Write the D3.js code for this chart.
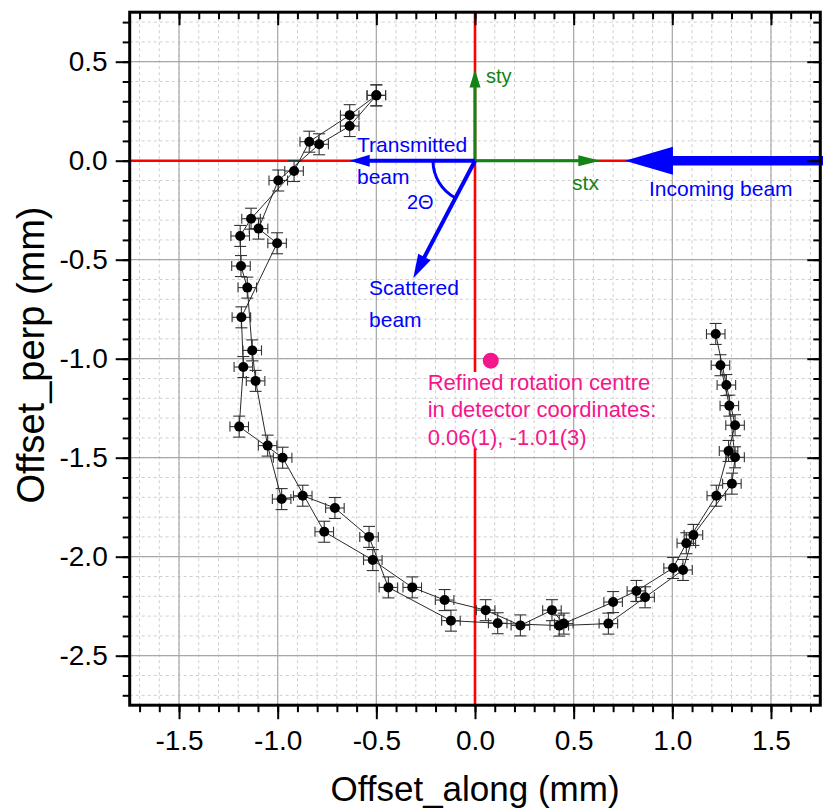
<!DOCTYPE html>
<html lang="en">
<head>
    <meta charset="UTF-8">
    <title>Offset</title>
    <script src="https://cdn.jsdelivr.net/npm/d3@7"></script>
    <style>
        body { margin: 0; background: #fff; }
        text { font-family: Arial, "Liberation Sans", sans-serif; }
    </style>
</head>
<body>
<script type="text/javascript">
    var width = 823;
    var height = 810;
    var plotLeft = 129.7, plotRight = 820.3, plotTop = 12.2, plotBottom = 705.2;

    // first pass
    var passA_x = [-0.50, -0.635, -0.84, -0.917, -1.135, -1.19, -1.186, -1.154, -1.129, -1.112, -1.051, -0.98, -0.873,
        -0.71, -0.537, -0.439, -0.122, 0.115, 0.427, 0.676, 0.862, 1.054, 1.107, 1.302, 1.318, 1.289, 1.244];
    var passA_y = [0.33, 0.23, 0.096, -0.052, -0.293, -0.38, -0.532, -0.641, -0.958, -1.112, -1.439, -1.709, -1.692,
        -1.754, -1.90, -2.155, -2.323, -2.336, -2.348, -2.338, -2.205, -2.067, -1.89, -1.631, -1.498, -1.237, -1.033];
    // second pass
    var passB_x = [-0.50, -0.635, -0.79, -0.997, -1.097, -1.003, -1.184, -1.174, -1.195, -0.975, -0.764, -0.518, -0.318,
        -0.154, 0.054, 0.23, 0.39, 0.45, 0.70, 0.818, 1.004, 1.071, 1.223, 1.285, 1.318, 1.274, 1.22];
    var passB_y = [0.33, 0.175, 0.083, -0.10, -0.343, -0.417, -0.791, -1.042, -1.343, -1.5, -1.874, -2.017, -2.155,
        -2.219, -2.27, -2.347, -2.27, -2.338, -2.229, -2.173, -2.057, -1.932, -1.692, -1.466, -1.336, -1.133, -0.875];
    var errX = 0.047;
    var errY = 0.053;
    var centre = [0.08, -1.01];

    var xMajor = [-1.5, -1.0, -0.5, 0.0, 0.5, 1.0, 1.5];
    var yMajor = [-2.5, -2.0, -1.5, -1.0, -0.5, 0.0, 0.5];
    var xMinor = d3.range(-17, 18).map(function (d) { return d / 10; });
    var yMinor = d3.range(-27, 8).map(function (d) { return d / 10; });

    var svg = d3.select('body').append('svg')
            .attr('width', width)
            .attr('height', height);
    svg.append('rect').attr('width', width).attr('height', height).attr('fill', '#fff');

    var x = d3.scaleLinear().domain([-1.75, 1.75]).range([plotLeft, plotRight]);
    var y = d3.scaleLinear().domain([-2.75, 0.75]).range([plotBottom, plotTop]);

    // grid
    var grid = svg.append('g');
    grid.selectAll('.vmin').data(xMinor).enter().append('line')
            .attr('x1', function (d) { return x(d); }).attr('x2', function (d) { return x(d); })
            .attr('y1', plotTop).attr('y2', plotBottom)
            .attr('stroke', '#cfcfcf').attr('stroke-dasharray', '3,3');
    grid.selectAll('.hmin').data(yMinor).enter().append('line')
            .attr('y1', function (d) { return y(d); }).attr('y2', function (d) { return y(d); })
            .attr('x1', plotLeft).attr('x2', plotRight)
            .attr('stroke', '#cfcfcf').attr('stroke-dasharray', '3,3');
    grid.selectAll('.vmaj').data(xMajor).enter().append('line')
            .attr('x1', function (d) { return x(d); }).attr('x2', function (d) { return x(d); })
            .attr('y1', plotTop).attr('y2', plotBottom)
            .attr('stroke', '#a8a8a8').attr('stroke-width', 1.2);
    grid.selectAll('.hmaj').data(yMajor).enter().append('line')
            .attr('y1', function (d) { return y(d); }).attr('y2', function (d) { return y(d); })
            .attr('x1', plotLeft).attr('x2', plotRight)
            .attr('stroke', '#a8a8a8').attr('stroke-width', 1.2);

    // red zero lines
    svg.append('line').attr('x1', plotLeft).attr('x2', plotRight).attr('y1', y(0)).attr('y2', y(0))
            .attr('stroke', '#ff0000').attr('stroke-width', 2.6);
    svg.append('line').attr('x1', x(0)).attr('x2', x(0)).attr('y1', plotTop).attr('y2', plotBottom)
            .attr('stroke', '#ff0000').attr('stroke-width', 2.6);
    // gap in the red line behind the centre label, sized later
    var gap = svg.append('rect').attr('fill', '#fff');

    function arrow(g, x1, y1, x2, y2, color, lw, headLen, headHalf) {
        var dx = x2 - x1, dy = y2 - y1;
        var len = Math.sqrt(dx * dx + dy * dy);
        var ux = dx / len, uy = dy / len;
        var bx = x2 - ux * headLen, by = y2 - uy * headLen;
        g.append('line').attr('x1', x1).attr('y1', y1).attr('x2', bx + ux).attr('y2', by + uy)
                .attr('stroke', color).attr('stroke-width', lw);
        g.append('path')
                .attr('d', 'M' + x2 + ',' + y2 + 'L' + (bx - uy * headHalf) + ',' + (by + ux * headHalf) +
                        'L' + (bx + uy * headHalf) + ',' + (by - ux * headHalf) + 'Z')
                .attr('fill', color);
    }

    var notes = svg.append('g');
    var green = '#148214', blue = '#0000ff';
    arrow(notes, x(0), y(0), x(0), y(0.46), green, 3, 18, 5.5);
    arrow(notes, x(0), y(0), x(0.635), y(0), green, 3, 22, 5.5);
    arrow(notes, x(0), y(0), x(-0.635), y(0), blue, 4, 20, 6);
    arrow(notes, x(0), y(0), x(-0.313), y(-0.594), blue, 4, 24, 7);
    arrow(notes, width, y(0), x(0.76), y(0), blue, 9.5, 48, 14);

    // 2 theta arc
    var r2 = 42;
    var a0 = Math.PI, a1 = Math.atan2(y(-0.594) - y(0), x(-0.313) - x(0));
    var p = d3.path();
    p.arc(x(0), y(0), r2, a0, a1, true);
    notes.append('path').attr('d', p.toString()).attr('fill', 'none')
            .attr('stroke', blue).attr('stroke-width', 3);

    function label(txt, xv, yv, color, size) {
        return notes.append('text').attr('x', x(xv)).attr('y', y(yv))
                .attr('fill', color).attr('font-size', size).text(txt);
    }
    label('sty', 0.056, 0.392, green, 20);
    label('stx', 0.492, -0.148, green, 21);
    label('Transmitted', -0.598, 0.044, blue, 21);
    label('beam', -0.598, -0.118, blue, 21);
    label('2\u0398', -0.345, -0.244, blue, 20);
    label('Scattered', -0.537, -0.678, blue, 21);
    label('beam', -0.537, -0.84, blue, 21);
    label('Incoming beam', 0.882, -0.178, blue, 21);

    // data
    var line = d3.line()
            .x(function (d) { return x(d[0]); })
            .y(function (d) { return y(d[1]); });
    var passA = d3.zip(passA_x, passA_y);
    var passB = d3.zip(passB_x, passB_y);
    var data = svg.append('g');
    [passA, passB].forEach(function (pts) {
        data.append('path').attr('d', line(pts)).attr('fill', 'none')
                .attr('stroke', '#111').attr('stroke-width', 0.9);
    });
    var all = passA.concat(passB);
    var eb = data.append('g').attr('stroke', '#333').attr('stroke-width', 1.1);
    all.forEach(function (d) {
        var cx = x(d[0]), cy = y(d[1]);
        var xl = x(d[0] - errX), xr = x(d[0] + errX);
        var yt = y(d[1] + errY), yb = y(d[1] - errY);
        eb.append('line').attr('x1', xl).attr('x2', xr).attr('y1', cy).attr('y2', cy);
        eb.append('line').attr('x1', xl).attr('x2', xl).attr('y1', cy - 5).attr('y2', cy + 5);
        eb.append('line').attr('x1', xr).attr('x2', xr).attr('y1', cy - 5).attr('y2', cy + 5);
        eb.append('line').attr('x1', cx).attr('x2', cx).attr('y1', yt).attr('y2', yb);
        eb.append('line').attr('x1', cx - 6).attr('x2', cx + 6).attr('y1', yt).attr('y2', yt);
        eb.append('line').attr('x1', cx - 6).attr('x2', cx + 6).attr('y1', yb).attr('y2', yb);
    });
    data.selectAll('circle').data(all).enter().append('circle')
            .attr('cx', function (d) { return x(d[0]); })
            .attr('cy', function (d) { return y(d[1]); })
            .attr('r', 5).attr('fill', '#000');

    // rotation centre
    var pink = '#f5168c';
    var pinkText = svg.append('g').attr('fill', pink).attr('font-size', 22);
    var lines = ['Refined rotation centre', 'in detector coordinates:', '0.06(1), -1.01(3)'];
    var tx = x(-0.24), ty = y(-1.158);
    lines.forEach(function (t, i) {
        pinkText.append('text').attr('x', tx).attr('y', ty + i * 27.5).text(t);
    });
    var bb = pinkText.node().getBBox();
    gap.attr('x', x(0) - 4).attr('y', bb.y + 2).attr('width', 8).attr('height', bb.height - 4);
    svg.append('circle').attr('cx', x(centre[0])).attr('cy', y(centre[1])).attr('r', 8).attr('fill', pink);

    // frame and axes
    svg.append('rect').attr('x', plotLeft).attr('y', plotTop)
            .attr('width', plotRight - plotLeft).attr('height', plotBottom - plotTop)
            .attr('fill', 'none').attr('stroke', '#000').attr('stroke-width', 3);

    var fmt = function (d) { return d.toFixed(1); };
    function axisGroup(axis, tx, ty) {
        var g = svg.append('g').attr('transform', 'translate(' + tx + ',' + ty + ')').call(axis);
        g.select('.domain').remove();
        g.selectAll('line').attr('stroke', '#000').attr('stroke-width', 2);
        g.selectAll('text').attr('font-size', 28).attr('fill', '#000')
                .style('font-family', 'Arial, "Liberation Sans", sans-serif');
        return g;
    }
    axisGroup(d3.axisBottom(x).tickValues(xMinor).tickSize(7).tickFormat(''), 0, plotBottom);
    axisGroup(d3.axisBottom(x).tickValues(xMajor).tickSize(14).tickPadding(11).tickFormat(fmt), 0, plotBottom);
    axisGroup(d3.axisLeft(y).tickValues(yMinor).tickSize(7).tickFormat(''), plotLeft, 0);
    axisGroup(d3.axisLeft(y).tickValues(yMajor).tickSize(14).tickPadding(8).tickFormat(fmt), plotLeft, 0);
    axisGroup(d3.axisTop(x).tickValues(xMinor).tickSize(-7).tickFormat(''), 0, plotTop);
    axisGroup(d3.axisTop(x).tickValues(xMajor).tickSize(-13).tickFormat(''), 0, plotTop);
    axisGroup(d3.axisRight(y).tickValues(yMinor).tickSize(-7).tickFormat(''), plotRight, 0);
    axisGroup(d3.axisRight(y).tickValues(yMajor).tickSize(-13).tickFormat(''), plotRight, 0);

    svg.append('text').attr('x', (plotLeft + plotRight) / 2).attr('y', 801)
            .attr('text-anchor', 'middle').attr('font-size', 35).text('Offset_along (mm)');
    svg.append('text').attr('transform', 'translate(44,355) rotate(-90)')
            .attr('text-anchor', 'middle').attr('font-size', 38).text('Offset_perp (mm)');
</script>
</body>
</html>
